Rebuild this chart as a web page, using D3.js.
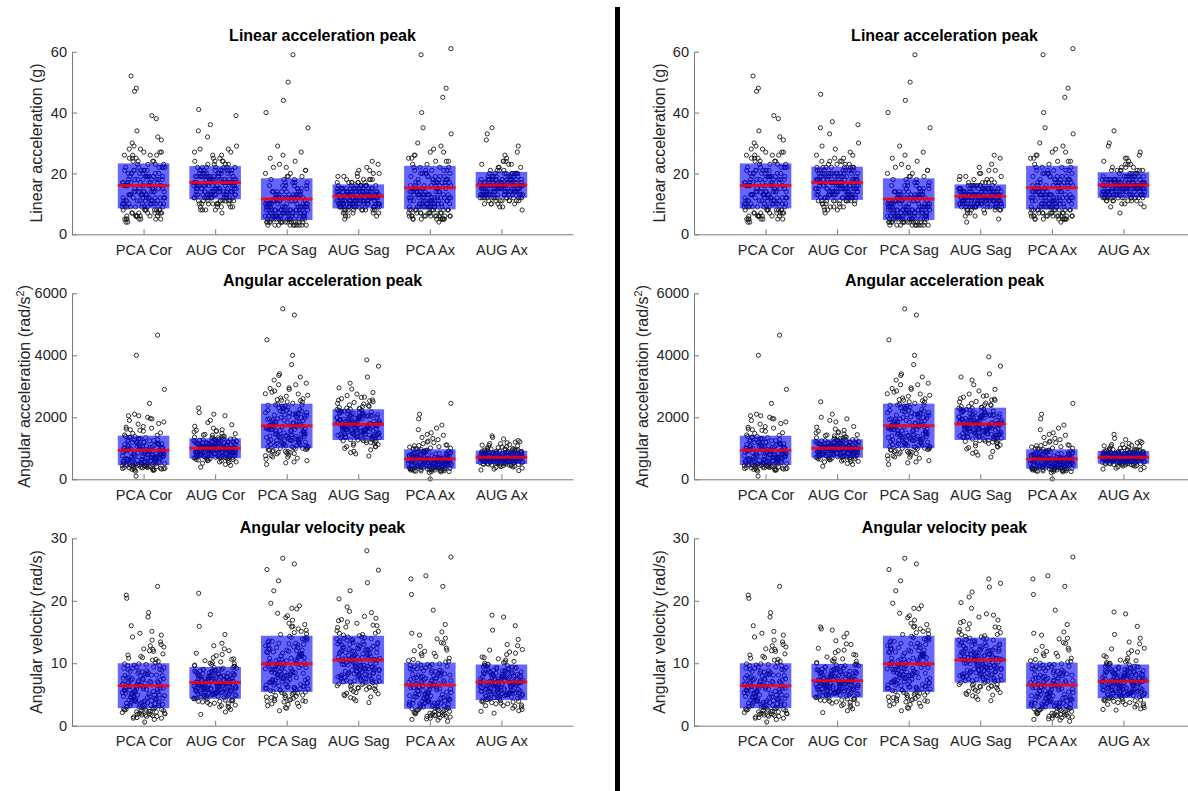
<!DOCTYPE html>
<html>
<head>
<meta charset="utf-8">
<script src="https://cdn.jsdelivr.net/npm/d3@7"></script>
<style>
  body { margin: 0; background: #fff; }
  svg { display: block; font-family: "Liberation Sans", Arial, sans-serif; }
</style>
</head>
<body>
<svg id="svgPeaks" width="1188" height="791"></svg>
<script>
const categories = ["PCA Cor", "AUG Cor", "PCA Sag", "AUG Sag", "PCA Ax", "AUG Ax"]

const titles = ["Linear acceleration peak", "Angular acceleration peak", "Angular velocity peak"]
const linTicks = [0, 20, 40, 60]
const angTicks = [0, 2000, 4000, 6000]
const velTicks = [0, 10, 20, 30]

// ---- linear acceleration (g) ----
const linPcaCor = [16,9,24,6,12,19,52,11,21,5, 14,18,27,8,13,20,7,10,17,25, 22,12,5,15,48,9,19,13,26,6,
  11,17,29,10,21,4,14,18,12,23, 20,7,13,16,39,9,22,11,28,5, 15,12,19,24,8,18,6,14,34,10,
  21,13,17,5,26,11,47,16,9,20, 7,14,22,12,30,18,10,4,15,25, 19,8,13,38,11,17,6,21,12,27,
  16,10,23,14,7,20,32,13,9,18,
  14,7,19,10,23,5,17,12,26,8, 20,11,15,6,22,13,9,18,28,16, 10,21,5,14,17,8,24,12,19,7,
  15,9,22,11,6,18,13,25,10,20, 8,16,12,27,14,5,19,11,23,9, 17,6,13,21,10,15,31,8,18,12,
  22,9,16,7,20,13,11,24,6,15, 12,19,8,17,10,26,14,7,21,16]
const linAugCorL = [17,12,24,9,19,14,21,41,11,16, 13,20,8,18,26,15,11,22,17,10, 19,14,36,12,21,16,9,23,13,18,
  11,17,20,15,28,12,19,7,16,14, 22,10,13,18,39,15,20,12,25,17, 14,19,11,16,8,21,13,27,18,12,
  20,15,34,17,10,22,14,19,11,16, 13,24,18,9,15,21,12,17,29,14, 16,11,19,22,13,32,18,10,15,20,
  12,17,26,14,21,8,16,23,13,18,
  18,13,21,10,16,24,12,19,15,9, 22,14,17,11,20,27,13,16,18,12, 15,19,10,23,14,17,21,8,16,13,
  20,12,18,15,25,11,17,14,19,22, 13,16,9,21,15,18,12,20,14,17, 24,11,16,19,13,15,22,10,18,14,
  17,20,12,15,28,13,19,16,11,21, 14,18,15,12,23,16,10,19,17,13]
const linAugCorR = [16,13,22,9,18,15,20,46,12,17, 14,19,8,21,25,11,16,23,13,18, 20,12,37,15,17,10,22,14,19,11,
  13,18,24,16,27,9,21,15,12,17, 19,11,14,22,36,16,7,13,28,18, 15,20,12,17,10,23,14,26,19,11,
  21,16,35,13,9,18,15,20,12,17, 14,22,19,10,16,24,13,18,30,15, 17,12,20,21,14,33,19,11,16,13,
  11,18,25,15,22,8,17,12,14,20,
  17,12,20,11,15,23,13,18,16,10, 21,15,18,12,19,26,14,17,19,13, 16,20,9,22,13,18,20,8,15,14,
  19,11,17,16,24,12,18,13,20,21, 14,15,10,22,16,17,13,21,15,18, 23,12,15,20,14,16,21,11,19,13,
  18,19,11,16,29,14,20,15,12,22, 13,17,16,11,24,15,9,18,16,14]
const linPcaSag = [8,4,13,21,6,11,3,16,9,59, 5,12,7,25,10,4,15,8,6,14, 9,3,18,11,5,50,7,13,4,20,
  12,6,9,16,4,8,23,10,5,14, 7,44,11,3,13,6,19,9,15,5, 10,4,8,27,12,6,17,3,11,7,
  14,5,9,40,7,13,4,22,10,8, 6,16,3,11,9,18,5,12,29,7, 4,10,15,8,35,6,12,3,17,9,
  11,7,21,5,14,8,26,4,13,6,
  6,10,4,13,8,17,5,11,7,15, 9,3,12,6,19,8,14,4,10,7, 12,5,9,16,6,11,3,8,22,13,
  7,10,4,14,9,5,18,12,6,8, 11,3,15,7,10,24,5,9,13,6, 4,12,8,17,6,10,14,7,3,11,
  9,20,5,13,8,4,16,10,7,12, 5,9,14,6,11,8,19,4,10,13]
const linAugSagL = [12,9,15,18,7,13,10,22,11,14, 16,8,12,10,19,13,6,11,15,9, 13,17,10,14,8,24,12,9,16,11,
  10,14,7,12,15,11,18,13,9,20, 15,11,13,9,16,5,12,14,10,17, 9,12,21,11,14,10,13,8,15,12,
  14,10,16,13,6,11,19,12,9,15, 11,13,9,17,12,10,14,23,8,13, 12,15,11,8,13,16,10,14,18,7,
  10,14,12,20,11,9,13,15,12,16,
  11,14,9,16,12,8,13,17,10,15, 12,7,14,11,18,9,13,16,10,12, 15,10,13,8,17,11,14,9,19,12,
  10,16,12,13,7,15,11,14,9,17, 13,9,15,12,10,20,11,14,8,16, 12,14,10,13,16,9,18,11,13,10,
  14,8,12,15,11,17,10,13,6,15, 11,13,16,9,14,12,10,21,12,14]
const linAugSagR = [13,10,14,17,8,12,11,21,9,15, 15,9,11,13,19,12,7,10,16,14, 12,18,10,13,8,26,11,9,15,12,
  11,14,6,13,16,10,17,12,9,22, 14,12,13,8,15,4,11,13,10,18, 10,13,20,12,15,9,14,7,16,11,
  13,11,17,12,5,10,19,14,9,15, 12,14,10,16,11,9,13,25,8,12, 11,16,12,9,14,15,10,13,18,6,
  9,15,13,21,12,10,14,16,11,13,
  12,13,10,15,11,9,14,16,11,14, 13,8,15,10,17,10,12,15,11,13, 14,9,12,9,18,12,13,10,20,11,
  11,15,13,12,8,14,10,15,10,16, 12,10,14,13,11,19,12,13,9,15, 13,15,9,12,17,10,16,12,14,11,
  15,9,11,14,12,16,11,12,7,14, 10,14,15,8,13,11,12,23,13,15]
const linPcaAx = [15,7,21,11,26,5,13,61,9,18, 12,19,6,14,10,24,8,16,5,20, 9,17,13,48,7,11,22,15,6,28,
  14,5,10,19,12,59,8,16,21,7, 11,25,6,13,17,9,15,4,20,12, 18,8,45,10,14,6,22,11,27,13,
  7,16,12,9,30,5,19,14,10,40, 13,21,8,17,6,12,24,9,15,11, 5,14,35,10,18,7,13,23,16,8,
  20,11,6,15,29,9,33,12,17,6,
  13,6,18,9,22,11,15,5,20,8, 16,10,24,7,14,19,12,6,17,9, 21,13,8,15,5,18,11,26,10,14,
  7,19,12,16,9,23,6,13,17,10, 15,8,20,11,5,14,18,9,22,12, 6,16,10,13,19,7,25,11,15,8,
  12,17,9,21,6,14,10,18,13,5, 16,11,20,8,14,27,9,12,17,7]
const linAugAxL = [16,13,19,10,22,15,17,35,12,18, 14,20,11,16,24,13,18,9,15,17, 19,12,16,33,14,21,13,17,10,15,
  17,15,23,12,18,14,11,20,16,13, 13,18,15,9,31,16,19,12,25,14, 20,11,17,14,16,22,13,18,15,10,
  15,19,12,29,17,13,20,16,8,14, 18,14,21,15,11,17,13,24,16,12, 12,16,18,13,27,15,10,19,14,17,
  16,13,20,15,12,23,17,11,18,14,
  15,18,13,20,16,11,17,14,19,12, 16,21,14,17,13,18,15,10,19,16, 13,17,20,12,15,18,14,22,16,11,
  18,14,16,13,19,15,17,12,21,14, 16,12,18,15,13,20,16,14,17,23, 14,19,15,11,17,13,18,16,12,20,
  17,15,13,18,14,16,24,12,19,15, 13,17,16,20,15,12,18,14,16,26]
const linAugAxR = [17,14,18,11,21,16,15,34,13,19, 15,19,12,17,23,14,16,10,18,13, 18,13,15,30,16,20,12,17,11,14,
  16,14,22,13,19,15,9,21,17,12, 12,17,16,10,29,15,18,13,24,14, 19,12,16,15,17,21,14,18,13,7,
  14,20,13,27,16,12,19,15,9,17, 17,15,22,14,11,18,16,25,13,12, 13,16,19,12,26,14,11,18,15,17,
  15,12,20,16,13,23,18,10,17,14,
  16,17,14,19,15,12,18,13,20,13, 15,22,13,16,14,19,16,11,18,15, 14,16,21,13,16,17,15,21,17,12,
  17,13,15,14,20,16,18,13,22,15, 15,13,17,16,12,19,17,15,16,24, 13,18,16,12,18,14,17,15,11,21,
  16,14,12,19,15,17,23,13,18,16, 14,18,15,21,16,11,17,13,15,25]

// ---- angular acceleration (rad/s^2) ----
const angPcaCor = [820,450,1250,610,1850,380,990,4650,540,1120, 700,1380,330,880,1050,490,2050,760,420,1190,
  590,960,1620,350,4000,730,1080,470,640,1310, 1000,400,780,1500,560,1230,300,850,2900,680,
  430,1150,620,910,1950,500,720,1340,370,820, 1060,580,2450,460,940,1700,650,310,1180,750,
  520,870,1420,390,1010,610,2100,800,440,1270, 690,1130,360,950,570,1800,740,480,1050,100,
  900,410,1360,660,1580,520,1020,340,790,1200, 600,1090,450,830,2000,710,1280,550,930,1650,
  760,1150,420,980,610,1320,350,880,1480,540, 1040,670,290,1210,820,470,1600,730,950,380,
  580,1270,860,430,1090,690,1780,510,920,320, 1130,640,1380,780,260,1010,560,1900,710,450,
  870,1240,400,660,1550,940,530,1060,340,800, 620,1170,480,1430,720,300,990,850,2050,570,
  1290,440,910,650,1120,370,1680,790,500,1020, 700,1350,410,1080,590,1960,830,360,1190,640]
const angAugCorL = [980,760,1210,590,1450,880,1050,2300,700,1130, 850,1290,520,1010,940,1580,730,1170,640,910,
  1090,800,1900,690,1240,960,450,1060,820,1380, 920,1150,740,1020,610,1310,870,1480,780,1000,
  710,2150,990,830,1120,560,1270,900,1650,750, 1040,680,1200,950,390,1100,810,1360,1070,720,
  890,1250,620,2050,970,770,1180,1030,540,1420, 1160,860,1000,700,1550,930,1080,660,1230,840,
  750,1110,2100,880,1010,600,1300,970,790,1190, 1020,690,1340,910,1760,820,1140,480,1050,940,
  960,1180,740,1060,880,1390,650,1010,1240,820, 1120,900,1530,710,1050,970,1290,800,1170,610,
  930,1340,1070,690,1220,870,1600,1000,770,1130, 1260,840,990,560,1150,1430,920,1080,720,1310,
  1030,860,1200,950,670,1110,1710,890,1040,760, 1280,990,820,1160,1470,730,1070,910,1350,640,
  1010,1190,870,1560,780,1100,950,1250,700,1020, 1300,830,1140,980,1830,750,1060,890,1210,930]
const angAugCorR = [1000,780,1190,620,1430,900,1060,2500,720,1120, 870,1270,560,1020,950,1550,750,1160,660,930,
  1080,820,2100,710,1230,970,480,1050,840,1360, 940,1140,760,1030,640,1290,890,1460,800,1010,
  730,2000,980,850,1110,590,1250,920,1620,770, 1040,700,1180,960,420,1090,830,1340,1070,740,
  910,1240,650,1950,990,790,1170,1020,570,1400, 1150,880,1000,720,1500,950,1080,680,1210,860,
  770,1100,1850,900,1000,630,1280,980,810,1180, 1030,710,1320,920,1700,840,1130,510,1060,960,
  970,1160,760,1050,890,1370,670,1000,1230,840, 1110,910,1500,730,1040,980,1270,820,1150,630,
  940,1320,1060,710,1200,880,1580,990,790,1120, 1240,850,980,580,1140,1410,930,1070,740,1290,
  1020,870,1190,960,690,1100,1680,900,1030,780, 1260,1000,830,1150,1440,750,1060,920,1330,660,
  1000,1180,880,1530,800,1090,960,1230,720,1010, 1280,840,1130,990,1900,770,1050,900,1200,940]
const angPcaSag = [1650,980,2300,1200,2950,720,1850,5500,1350,2100, 1480,2600,850,1750,1100,2200,600,1550,3200,1300,
  1900,1050,5300,1420,2050,890,1600,2750,1180,760, 1250,2400,1700,530,1950,1380,3400,1080,2150,930,
  2250,1150,4500,1800,820,1530,2500,1270,680,1990, 1020,1720,2850,1460,2080,950,1310,3050,1620,780,
  1880,1230,2350,650,4000,1560,1000,2680,1400,2010, 1340,2150,870,1680,3300,1120,1930,560,2420,1500,
  710,1780,1290,2550,1060,3700,1450,2200,900,1600, 2100,1390,960,2900,1710,1160,2300,480,1820,1250,
  1540,2230,1120,1870,2620,980,1430,2070,1760,1240, 2390,1610,870,1980,1330,2810,1180,1690,2150,1050,
  1820,2490,1390,940,2040,1570,3100,1270,1930,1110, 2280,1660,1020,2570,1450,1840,760,2130,1360,2710,
  1590,1090,1990,2360,1210,1720,3350,1470,2010,890, 1300,2180,1640,2450,1150,1890,1410,2930,1700,1000,
  2060,1260,1780,2540,1500,2220,830,1950,1380,2320, 1620,2100,1180,2760,1440,1860,2400,1080,1730,3050]
const angAugSagL = [1750,1350,2100,1050,2500,1600,1900,3850,1280,2000, 1500,2200,950,1820,1420,2650,1680,1150,1960,1380,
  2050,1550,3650,1300,1870,1700,820,2150,1460,2400, 1620,1980,1240,1790,1100,2250,1520,2700,1400,1850,
  1330,3300,1720,2080,1560,1000,2180,1650,2550,1440, 1920,1210,2020,1590,750,1810,1480,2350,1700,1320,
  1580,2130,1180,3100,1760,1410,1940,1630,900,2450, 2060,1530,1770,1270,2600,1690,1880,1120,2220,1470,
  1360,1840,2950,1610,1990,1060,2280,1740,1430,2120, 1800,1250,2300,1570,2750,1450,2030,860,1710,1660,
  1690,2040,1410,1860,1560,2210,1330,1950,1720,2380, 1480,1830,2120,1370,2560,1640,1910,1250,2050,1760,
  2290,1520,1800,1150,1990,2430,1610,1870,1390,2170, 1700,2070,1440,2640,1780,1290,1960,2230,1580,1840,
  1050,2010,1670,2350,1490,1890,2140,1600,2800,1360, 1930,1730,2260,1450,2020,1620,1190,2480,1820,1540,
  2100,1400,1750,2190,1660,2910,1510,1950,1350,2060, 1770,2320,1590,1880,1230,2160,1710,2530,1470,1990]
const angAugSagR = [1770,1330,2150,1020,2550,1620,1920,3950,1300,2020, 1520,2250,900,1840,1400,2700,1660,1170,1980,1360,
  2080,1570,3650,1280,1890,1720,780,2180,1480,2450, 1640,2000,1220,1810,1080,2300,1540,2750,1420,1870,
  1350,3400,1740,2100,1580,980,2200,1670,2600,1460, 1940,1190,2040,1610,720,1830,1500,2400,1720,1340,
  1600,2160,1160,3200,1780,1430,1960,1650,880,2500, 2090,1550,1790,1250,2650,1710,1900,1100,2260,1490,
  1380,1860,3300,1630,2010,1040,2320,1760,1450,2140, 1820,1230,2350,1590,2850,1470,2060,840,1730,1680,
  1710,2060,1420,1880,1570,2240,1340,1970,1740,2410, 1500,1850,2140,1380,2590,1650,1930,1260,2070,1780,
  2320,1530,1820,1160,2010,2460,1630,1890,1400,2200, 1720,2090,1450,2680,1800,1300,1980,2260,1590,1860,
  1060,2030,1690,2380,1500,1910,2170,1620,2900,1370, 1950,1750,2290,1460,2040,1640,1200,2510,1840,1550,
  2120,1410,1770,2220,1680,3050,1520,1970,1360,2080, 1790,2350,1600,1900,1240,2190,1730,2560,1480,2010]
const angPcaAx = [620,380,1100,450,820,290,540,2450,710,410, 500,890,330,660,1350,470,760,260,580,930,
  740,430,2100,560,310,980,640,390,850,520, 460,700,1200,350,610,270,790,1500,440,680,
  870,510,300,1950,590,400,720,1050,480,250, 550,950,420,670,340,1650,530,810,10,600,
  370,730,1000,490,880,280,640,450,1280,570, 690,320,540,1750,460,780,390,920,510,220,
  830,470,1150,600,360,710,1420,530,300,650, 410,760,560,1080,240,900,480,620,1600,350,
  520,780,360,640,910,430,700,300,580,1040, 470,690,850,390,610,280,750,540,1180,420,
  660,330,800,490,960,570,250,720,440,880, 600,370,1090,510,680,310,830,460,740,1320,
  400,620,940,350,560,790,480,1010,270,670, 530,860,410,720,340,1230,590,450,770,630,
  300,990,500,650,380,820,560,1110,430,710, 480,900,350,610,760,420,1450,550,680,320]
const angAugAxL = [700,540,880,420,1020,610,760,1400,480,820, 650,950,380,730,580,1150,690,450,800,560,
  840,620,1300,510,770,670,300,900,590,1080, 720,860,470,750,530,980,640,1200,560,790,
  600,1350,710,830,640,400,910,680,1050,550, 780,500,850,660,330,740,610,1000,700,520,
  640,890,460,1250,720,570,810,670,360,960, 870,590,730,500,1120,690,780,440,930,620,
  540,760,1180,650,820,410,940,710,580,860, 740,490,920,630,1100,600,800,280,690,680,
  690,820,560,760,620,930,710,480,850,650, 780,590,1010,700,530,870,740,640,950,610,
  720,880,520,800,680,1090,580,750,910,460, 830,670,770,600,990,710,540,860,730,650,
  1150,620,790,700,890,510,760,960,640,820, 570,740,690,1040,800,600,880,720,490,780,
  660,910,590,710,850,1210,630,770,540,840, 700,610,980,750,670,820,440,730,900,620]
const angAugAxR = [720,560,860,440,1000,630,770,1450,500,810, 660,940,400,740,590,1120,700,470,790,570,
  830,630,1280,520,780,680,330,880,600,1060, 730,850,490,760,550,960,650,1180,570,800,
  610,1320,720,820,650,420,900,690,1030,560, 770,510,840,670,360,750,620,980,710,530,
  650,880,480,1230,730,580,800,680,380,940, 860,600,740,520,1100,700,790,460,920,640,
  550,770,1150,660,810,430,930,720,590,850, 750,500,910,640,1080,610,790,310,700,690,
  700,810,570,770,630,920,720,490,840,660, 790,600,990,710,540,860,750,650,940,620,
  730,870,530,810,690,1070,590,760,900,470, 820,680,780,610,970,720,550,850,740,660,
  1120,630,800,710,880,520,770,950,650,830, 580,750,700,1020,810,610,870,730,500,790,
  670,900,600,720,840,1190,640,780,550,830, 710,620,960,760,680,810,450,740,890,630]

// ---- angular velocity (rad/s) ----
const velPcaCor = [6.2,3.1,9.4,1.8,12.6,4.5,7.3,22.3,2.4,5.6, 8.1,4.0,1.2,6.8,10.8,3.5,9.9,2.1,5.1,14.2,
  3.8,7.6,20.9,2.7,5.9,11.5,1.5,8.7,4.3,6.5, 9.2,2.3,5.3,13.4,3.3,7.0,1.0,8.4,4.8,17.4,
  5.0,10.3,2.9,6.1,15.1,3.9,8.9,1.7,7.8,4.2, 2.0,6.6,12.0,4.6,9.6,3.0,20.4,5.5,1.3,7.5,
  8.2,3.6,5.8,11.1,2.5,6.9,4.1,13.0,0.6,9.0, 4.4,7.2,1.9,18.1,5.2,3.2,8.6,2.6,10.5,6.3,
  3.4,9.8,5.7,2.2,14.8,4.7,7.1,1.4,6.0,12.3, 7.7,2.8,4.9,9.3,3.7,16.0,5.4,2.0,8.0,4.0,
  5.4,2.6,8.3,4.1,10.1,3.0,6.7,1.9,9.2,5.0, 7.4,3.6,12.2,2.2,6.0,8.8,4.6,1.5,7.9,5.7,
  3.3,9.7,6.4,2.8,11.3,4.9,7.0,2.0,8.5,3.9, 6.9,1.7,5.2,13.7,4.3,8.0,2.5,6.3,10.6,3.4,
  7.6,4.7,1.2,9.0,5.9,3.1,11.9,6.6,2.4,8.2, 4.5,7.1,3.7,9.9,1.8,5.6,14.5,4.0,6.8,2.9,
  8.7,5.3,2.3,7.5,3.5,10.9,6.1,1.6,9.4,4.4, 5.8,3.2,8.1,6.5,2.7,12.8,4.8,7.3,3.8,9.6]
const velAugCorL = [6.8,4.9,8.7,3.2,10.4,5.6,7.5,21.2,4.1,8.0, 5.9,9.1,3.8,7.2,5.0,11.6,6.4,4.5,8.4,5.3,
  7.8,5.7,17.8,4.4,7.0,6.1,2.6,9.3,5.2,12.3, 6.6,8.2,4.7,7.4,3.5,9.8,6.0,13.2,5.4,7.6,
  5.1,15.9,6.9,8.5,4.8,3.0,9.0,6.3,10.9,5.5, 7.3,4.2,8.1,6.2,1.8,7.1,5.8,9.6,6.7,4.6,
  6.0,8.8,3.9,14.6,7.7,5.0,8.3,6.5,2.9,10.1, 8.6,5.4,7.0,4.0,11.2,6.4,7.9,3.4,9.2,5.7,
  4.9,7.4,12.8,6.1,8.0,3.7,9.5,6.8,5.2,8.4, 7.2,4.4,9.0,5.9,10.6,5.3,7.6,2.2,6.6,6.3,
  6.5,8.3,5.1,7.6,4.4,9.2,6.0,7.1,5.5,8.8, 4.7,7.9,6.3,10.2,5.8,6.9,3.6,8.0,6.6,5.2,
  9.5,6.2,7.3,4.9,8.6,5.6,11.4,7.0,4.2,6.8, 8.1,5.4,7.7,6.1,3.9,9.0,6.7,5.0,8.4,7.2,
  5.7,10.7,6.4,4.6,7.8,6.0,9.7,5.3,7.4,4.0, 8.9,6.6,5.9,7.5,3.3,8.2,6.2,12.0,5.1,7.0,
  6.4,4.8,9.3,7.7,5.5,6.8,10.0,4.3,7.9,6.1, 5.6,8.5,6.9,4.5,7.3,9.9,5.8,6.7,3.1,8.7]
const velAugCorR = [7.0,5.1,9.0,3.4,11.0,5.8,7.7,15.8,4.3,8.3, 6.1,9.5,4.0,7.4,5.2,12.4,6.6,4.7,8.7,5.5,
  8.1,5.9,15.3,4.6,7.3,6.3,2.7,9.7,5.4,13.1, 6.8,8.5,4.9,7.6,3.7,10.3,6.2,14.2,5.6,7.9,
  5.3,15.5,7.1,8.8,5.0,3.2,9.4,6.5,11.7,5.7, 7.5,4.4,8.4,6.4,2.1,7.3,6.0,10.0,6.9,4.8,
  6.2,9.1,4.1,14.8,8.0,5.2,8.6,6.7,3.0,10.7, 8.9,5.6,7.2,4.2,12.0,6.6,8.2,3.6,9.6,5.9,
  5.1,7.7,13.6,6.3,8.3,3.9,9.9,7.0,5.4,8.7, 7.4,4.6,9.3,6.1,11.4,5.5,7.9,2.4,6.8,6.5,
  6.8,8.6,5.3,7.9,4.6,9.6,6.3,7.4,5.7,9.1, 4.9,8.2,6.6,10.7,6.0,7.2,3.8,8.4,6.9,5.4,
  9.8,6.5,7.6,5.1,8.9,5.8,12.1,7.3,4.4,7.1, 8.5,5.6,8.0,6.4,4.1,9.4,7.0,5.2,8.8,7.5,
  6.0,11.3,6.7,4.8,8.1,6.3,10.1,5.5,7.7,4.2, 9.2,6.9,6.2,7.8,3.5,8.6,6.5,13.0,5.3,7.3,
  6.7,5.0,9.7,8.0,5.8,7.1,10.4,4.5,8.3,6.4, 5.9,8.9,7.2,4.7,7.6,10.3,6.1,7.0,3.3,9.0]
const velPcaSag = [9.6,5.8,13.2,3.9,16.4,7.4,11.1,26.8,4.6,8.5, 12.5,6.3,2.8,10.2,18.7,7.9,14.0,4.2,9.0,6.6,
  5.1,11.7,25.9,8.1,13.8,3.4,7.0,15.5,10.6,6.0, 8.8,4.8,12.1,17.3,6.9,10.0,2.4,9.3,14.3,5.5,
  11.4,7.6,25.0,4.4,9.8,13.0,6.2,19.6,3.6,8.2, 6.8,10.8,4.0,15.1,8.6,12.8,5.3,23.2,7.3,11.9,
  13.5,3.1,9.4,6.5,16.9,10.4,4.9,8.0,12.3,7.7, 5.7,14.7,8.3,21.6,11.2,3.8,9.9,6.1,18.0,10.1,
  7.1,4.5,12.9,9.1,5.9,15.8,8.4,11.5,2.9,13.6, 10.5,6.4,14.1,4.1,8.9,19.2,7.5,11.8,5.2,9.7,
  8.4,12.1,5.6,10.3,14.6,6.9,9.2,4.3,11.5,7.8, 13.4,6.1,9.9,16.2,8.0,3.5,11.0,7.1,12.8,5.0,
  9.5,13.9,6.6,10.8,4.7,8.7,15.3,7.4,11.8,5.9, 10.1,3.9,12.6,8.2,6.3,17.6,9.0,5.2,11.2,7.6,
  14.1,6.8,9.7,4.5,12.3,8.5,10.6,5.4,13.1,7.2, 9.3,11.6,6.0,15.9,8.9,4.0,10.4,7.0,12.0,5.7,
  13.7,8.1,6.5,11.4,9.6,3.2,14.9,7.7,10.9,6.2, 8.6,12.5,5.3,9.1,18.8,7.3,11.1,4.8,10.0,13.2]
const velAugSagL = [10.2,7.1,13.4,5.2,16.1,8.6,11.8,28.0,6.3,12.4, 9.0,14.0,4.6,11.2,7.8,17.5,9.7,5.9,12.9,8.1,
  12.1,8.9,24.9,6.6,10.7,9.4,4.0,14.8,7.5,18.3, 10.0,12.7,7.0,11.5,5.5,15.2,9.2,19.0,8.4,11.0,
  7.7,22.9,10.4,13.1,7.3,4.8,13.9,9.6,16.8,8.3, 11.3,6.4,12.3,9.8,3.7,10.9,8.8,14.6,10.1,6.9,
  9.3,13.6,5.8,21.6,11.7,7.6,12.6,9.9,4.3,15.7, 13.0,8.2,10.6,6.1,17.0,9.5,12.0,5.1,14.2,8.7,
  7.4,11.4,20.3,9.1,12.2,5.6,14.4,10.3,7.9,13.3, 10.8,6.8,13.7,8.5,16.4,8.0,11.6,4.5,10.5,9.6,
  9.8,12.3,7.2,11.0,14.1,8.4,10.5,6.0,12.9,9.1, 13.6,7.8,10.9,15.8,9.4,5.3,11.6,8.7,13.0,7.0,
  10.2,14.5,8.1,11.9,6.4,9.7,16.6,8.9,12.4,7.5, 11.3,5.8,13.3,9.3,7.7,18.1,10.0,6.7,12.1,8.5,
  14.8,8.0,10.7,6.2,13.8,9.0,11.5,7.3,12.7,8.8, 10.4,12.2,7.0,16.0,9.6,5.0,11.1,8.3,13.1,7.6,
  14.2,9.2,7.9,12.0,10.8,6.5,15.1,8.6,11.7,7.1, 9.5,13.4,6.9,10.6,17.2,8.2,12.5,6.1,11.2,13.9]
const velAugSagR = [10.4,7.3,13.2,5.5,15.8,8.8,11.6,23.5,6.5,12.2, 9.2,13.8,4.9,11.0,8.0,17.9,9.9,6.1,12.7,8.3,
  12.0,9.1,22.8,6.8,10.9,9.6,4.2,14.6,7.7,18.8, 10.2,12.5,7.2,11.3,5.7,15.0,9.4,20.6,8.6,11.2,
  7.9,22.2,10.6,12.9,7.5,5.0,13.7,9.8,16.5,8.5, 11.5,6.6,12.1,10.0,4.0,10.7,9.0,14.4,10.3,7.1,
  9.5,13.4,6.0,21.4,11.9,7.8,12.4,10.1,4.6,15.4, 12.8,8.4,10.8,6.3,16.7,9.7,11.8,5.3,14.0,8.9,
  7.6,11.2,19.7,9.3,12.0,5.8,14.2,10.5,8.1,13.1, 10.6,7.0,13.5,8.7,17.4,8.2,11.4,4.8,10.7,9.8,
  10.0,12.1,7.4,11.2,13.9,8.6,10.7,6.2,12.7,9.3, 13.4,8.0,11.1,15.5,9.6,5.5,11.8,8.9,12.8,7.2,
  10.4,14.3,8.3,11.7,6.6,9.9,16.3,9.1,12.2,7.7, 11.5,6.0,13.1,9.5,7.9,17.7,10.2,6.9,11.9,8.7,
  14.6,8.2,10.9,6.4,13.6,9.2,11.3,7.5,12.5,9.0, 10.6,12.0,7.2,15.7,9.8,5.2,11.0,8.5,12.9,7.8,
  14.0,9.4,8.1,11.8,10.5,6.7,14.9,8.8,11.5,7.3, 9.7,13.2,7.1,10.8,16.9,8.4,12.3,6.3,11.4,13.7]
const velPcaAx = [6.0,3.2,9.5,1.6,12.0,4.4,7.4,27.0,2.2,5.5, 8.3,3.9,1.0,6.7,11.2,3.4,9.8,2.0,5.0,24.0,
  3.7,7.7,14.5,2.6,5.8,10.6,1.3,8.8,4.2,6.4, 9.1,2.4,5.2,23.5,3.0,7.1,0.7,8.5,4.7,13.3,
  4.9,10.4,2.8,6.2,16.2,3.8,9.0,1.8,7.9,4.1, 1.9,6.6,22.3,4.5,9.7,3.1,12.7,5.4,1.2,7.6,
  8.0,3.5,5.9,11.6,2.5,7.0,4.0,21.0,0.9,9.2, 4.3,7.3,2.1,15.0,5.1,3.3,8.7,2.7,10.2,6.3,
  3.6,9.9,5.6,2.3,18.5,4.6,7.2,1.5,6.1,13.9, 7.8,2.9,4.8,9.4,3.6,11.9,5.3,1.7,8.1,4.0,
  5.2,2.7,8.4,3.9,10.3,3.1,6.8,1.7,9.3,4.8, 7.5,3.5,12.4,2.0,6.1,8.9,4.4,1.4,8.0,5.6,
  3.2,9.8,6.5,2.6,11.5,4.6,7.1,1.9,8.6,3.7, 6.9,1.6,5.0,14.0,4.2,8.2,2.4,6.4,10.8,3.3,
  7.7,4.5,1.1,9.1,5.7,3.0,12.1,6.7,2.2,8.3, 4.3,7.2,3.6,10.0,1.8,5.5,14.8,3.8,6.9,2.8,
  8.8,5.1,2.1,7.6,3.4,11.1,6.2,1.5,9.5,4.1, 5.9,3.0,8.1,6.6,2.5,13.2,4.7,7.4,3.6,9.7]
const velAugAxL = [6.9,4.8,9.0,3.1,10.7,5.5,7.6,17.7,3.9,8.2, 5.8,9.4,3.5,7.3,4.9,12.1,6.5,4.3,8.6,5.2,
  8.0,5.6,17.4,4.2,7.1,6.0,2.3,9.6,5.1,12.8, 6.6,8.4,4.6,7.5,3.3,10.2,6.0,16.0,5.3,7.8,
  5.0,15.3,7.0,8.8,4.7,2.8,9.3,6.3,11.4,5.4, 7.4,4.0,8.3,6.2,2.0,7.2,5.7,9.8,6.8,4.5,
  6.1,9.1,3.7,13.8,7.9,4.9,8.5,6.6,2.6,10.5, 8.7,5.3,7.1,3.8,11.8,6.4,8.1,3.2,9.5,5.6,
  4.8,7.5,13.0,6.1,8.2,3.6,9.7,6.9,5.1,8.6, 7.3,4.4,9.2,5.9,11.0,5.2,7.7,2.4,6.7,6.4,
  6.6,8.4,5.0,7.7,4.3,9.3,6.1,7.2,5.4,8.9, 4.6,8.0,6.4,10.3,5.7,7.0,3.5,8.1,6.7,5.1,
  9.6,6.3,7.4,4.8,8.7,5.5,11.6,7.1,4.1,6.9, 8.2,5.3,7.8,6.0,3.8,9.1,6.8,4.9,8.5,7.3,
  5.6,10.9,6.5,4.5,7.9,5.9,9.8,5.2,7.5,3.9, 9.0,6.7,5.8,7.6,3.2,8.3,6.3,12.2,5.0,7.1,
  6.5,4.7,9.4,7.8,5.4,6.9,10.1,4.2,8.0,6.2, 5.5,8.6,7.0,4.4,7.4,10.0,5.7,6.8,3.0,8.8]
const velAugAxR = [7.1,4.9,9.1,3.3,10.5,5.7,7.8,18.2,4.1,8.4, 6.0,9.5,3.7,7.5,5.0,12.3,6.7,4.5,8.8,5.4,
  8.2,5.8,17.9,4.4,7.3,6.2,2.6,9.7,5.3,13.1, 6.8,8.6,4.8,7.7,3.5,10.4,6.2,15.9,5.5,8.0,
  5.2,14.6,7.2,9.0,4.9,3.0,9.4,6.5,11.6,5.6, 7.6,4.2,8.5,6.4,2.5,7.4,5.9,10.0,7.0,4.7,
  6.3,9.3,3.9,14.0,8.1,5.1,8.7,6.8,2.9,10.8, 8.9,5.5,7.3,4.0,12.0,6.6,8.3,3.4,9.7,5.8,
  5.0,7.7,13.4,6.3,8.4,3.8,9.9,7.1,5.3,8.8, 7.5,4.6,9.4,6.1,11.2,5.4,7.9,2.7,6.9,6.6,
  6.8,8.5,5.2,7.9,4.5,9.4,6.3,7.4,5.6,9.0, 4.8,8.1,6.6,10.4,5.9,7.2,3.7,8.3,6.9,5.3,
  9.7,6.5,7.6,5.0,8.8,5.7,11.8,7.3,4.3,7.1, 8.4,5.5,8.0,6.2,4.0,9.2,7.0,5.1,8.6,7.5,
  5.8,11.0,6.7,4.7,8.1,6.1,9.9,5.4,7.7,4.1, 9.1,6.9,6.0,7.8,3.4,8.5,6.5,12.4,5.2,7.3,
  6.7,4.9,9.5,8.0,5.6,7.1,10.2,4.4,8.2,6.4, 5.7,8.7,7.2,4.6,7.6,10.1,5.9,7.0,3.2,8.9]

// ---- box (mean +- sd) ----
const linMeanL = [16.0, 17.0, 11.6, 12.5, 15.3, 16.2]
const linLoL = [8.5, 11.5, 4.7, 8.5, 8.2, 12.0]
const linHiL = [23.3, 22.4, 18.4, 16.4, 22.5, 20.5]
const linMeanR = [16.0, 17.0, 11.6, 12.5, 15.3, 16.2]
const linLoR = [8.5, 11.3, 4.7, 8.5, 8.2, 12.0]
const linHiR = [23.3, 22.2, 18.4, 16.4, 22.5, 20.4]

const angMeanL = [935, 1000, 1725, 1774, 655, 710]
const angLoL = [461, 677, 1000, 1268, 342, 494]
const angHiL = [1406, 1322, 2440, 2258, 968, 923]
const angMeanR = [935, 1000, 1725, 1785, 655, 710]
const angLoR = [461, 697, 1000, 1268, 342, 505]
const angHiR = [1406, 1290, 2440, 2310, 968, 913]

const velMeanL = [6.4, 6.9, 9.9, 10.5, 6.5, 7.0]
const velLoL = [2.8, 4.3, 5.4, 6.7, 2.7, 4.1]
const velHiL = [10.0, 9.4, 14.4, 14.4, 10.1, 9.8]
const velMeanR = [6.4, 7.2, 9.9, 10.5, 6.5, 7.1]
const velLoR = [2.8, 4.5, 5.4, 6.9, 2.7, 4.4]
const velHiR = [10.0, 9.9, 14.4, 14.1, 10.1, 9.8]


const svg = d3.select("#svgPeaks")

var axisColor = "#7a7a7a"
var textColor = "#262626"
var boxHalf = 0.36
var jitterHalf = 0.3

// column x extents of the axes, row y extents
var columns = [{ x0: 72, x1: 573, labelX: 42, labelXAng: 30 }, { x0: 694, x1: 1195, labelX: 665, labelXAng: 648 }]
var rows = [
    { top: 51.7, bottom: 234.3, titleY: 41, ticks: linTicks, label: "Linear acceleration (g)" },
    { top: 293.3, bottom: 479.3, titleY: 286, ticks: angTicks, label: "Angular acceleration (rad/s" },
    { top: 538.3, bottom: 725.7, titleY: 533, ticks: velTicks, label: "Angular velocity (rad/s)" }
]

var panelData = [
    [
        { points: [linPcaCor, linAugCorL, linPcaSag, linAugSagL, linPcaAx, linAugAxL], mean: linMeanL, lo: linLoL, hi: linHiL },
        { points: [angPcaCor, angAugCorL, angPcaSag, angAugSagL, angPcaAx, angAugAxL], mean: angMeanL, lo: angLoL, hi: angHiL },
        { points: [velPcaCor, velAugCorL, velPcaSag, velAugSagL, velPcaAx, velAugAxL], mean: velMeanL, lo: velLoL, hi: velHiL }
    ],
    [
        { points: [linPcaCor, linAugCorR, linPcaSag, linAugSagR, linPcaAx, linAugAxR], mean: linMeanR, lo: linLoR, hi: linHiR },
        { points: [angPcaCor, angAugCorR, angPcaSag, angAugSagR, angPcaAx, angAugAxR], mean: angMeanR, lo: angLoR, hi: angHiR },
        { points: [velPcaCor, velAugCorR, velPcaSag, velAugSagR, velPcaAx, velAugAxR], mean: velMeanR, lo: velLoR, hi: velHiR }
    ]
]

// horizontal spread of the dots inside a category (golden ratio sequence)
var spread = (i, c) => ((i * 0.6180339887 + c * 0.291 + 0.5) % 1 - 0.5) * 2 * jitterHalf

function drawPanel(col, row, d, ci, ri) {

    const X_scale = d3.scaleLinear().domain([0, 7]).range([col.x0, col.x1])
    const Y_scale = d3.scaleLinear()
        .domain([row.ticks[0], row.ticks[row.ticks.length - 1]])
        .range([row.bottom, row.top])

    const g = svg.append("g").attr("id", `panel_${ci}_${ri}`)

    // dots first, the box is laid over them with alpha
    const flat = []
    d.points.forEach((arr, c) => arr.forEach((v, i) => flat.push({ c: c, i: i, v: v })))

    g.append("g").selectAll("circle")
        .data(flat)
        .join("circle")
        .attr("cx", p => X_scale(p.c + 1 + spread(p.i, p.c)))
        .attr("cy", p => Y_scale(p.v))
        .attr("r", 2.1)
        .attr("fill", "none")
        .attr("stroke", "#1a1a1a")
        .attr("stroke-width", 0.9)

    g.append("g").selectAll("rect")
        .data(categories)
        .join("rect")
        .attr("x", (c, k) => X_scale(k + 1 - boxHalf))
        .attr("width", (c, k) => X_scale(k + 1 + boxHalf) - X_scale(k + 1 - boxHalf))
        .attr("y", (c, k) => Y_scale(d.hi[k]))
        .attr("height", (c, k) => Y_scale(d.lo[k]) - Y_scale(d.hi[k]))
        .attr("fill", "rgb(0,0,255)")
        .attr("fill-opacity", 0.6)

    g.append("g").selectAll("line")
        .data(categories)
        .join("line")
        .attr("x1", (c, k) => X_scale(k + 1 - boxHalf))
        .attr("x2", (c, k) => X_scale(k + 1 + boxHalf))
        .attr("y1", (c, k) => Y_scale(d.mean[k]))
        .attr("y2", (c, k) => Y_scale(d.mean[k]))
        .attr("stroke", "#ff0000")
        .attr("stroke-opacity", 0.85)
        .attr("stroke-width", 3)

    // axes
    const yAxis = g.append("g")
        .attr("transform", `translate(${col.x0},0)`)
        .call(d3.axisLeft(Y_scale).tickValues(row.ticks).tickFormat(d3.format("d"))
            .tickSizeInner(-5).tickSizeOuter(0).tickPadding(5))
    const xAxis = g.append("g")
        .attr("transform", `translate(0,${row.bottom})`)
        .call(d3.axisBottom(X_scale).tickValues([1, 2, 3, 4, 5, 6])
            .tickFormat(v => categories[v - 1]).tickSizeInner(-5).tickSizeOuter(0).tickPadding(10))

    for (const ax of [yAxis, xAxis]) {
        ax.attr("font-size", null).attr("font-family", null)
        ax.selectAll("path, line").attr("stroke", axisColor)
        ax.selectAll("text").attr("fill", textColor).style("font-size", "14.6px")
    }

    g.append("text")
        .attr("x", (col.x0 + col.x1) / 2)
        .attr("y", row.titleY)
        .attr("text-anchor", "middle")
        .attr("font-weight", "bold")
        .attr("font-size", 16)
        .attr("fill", "#000")
        .text(titles[ri])

    const lx = ri == 1 ? col.labelXAng : col.labelX
    const label = g.append("text")
        .attr("transform", `translate(${lx},${(row.top + row.bottom) / 2}) rotate(-90)`)
        .attr("text-anchor", "middle")
        .attr("font-size", 16)
        .attr("fill", textColor)
        .text(row.label)
    if (ri == 1) {
        label.append("tspan").attr("font-size", 11).attr("dy", -6).text("2")
        label.append("tspan").attr("dy", 6).text(")")
    }
}

columns.forEach((col, ci) => rows.forEach((row, ri) => drawPanel(col, row, panelData[ci][ri], ci, ri)))

// separator between the two figures
svg.append("rect")
    .attr("x", 615)
    .attr("y", 7)
    .attr("width", 5)
    .attr("height", 791 - 7)
    .attr("fill", "#000")
</script>
</body>
</html>
